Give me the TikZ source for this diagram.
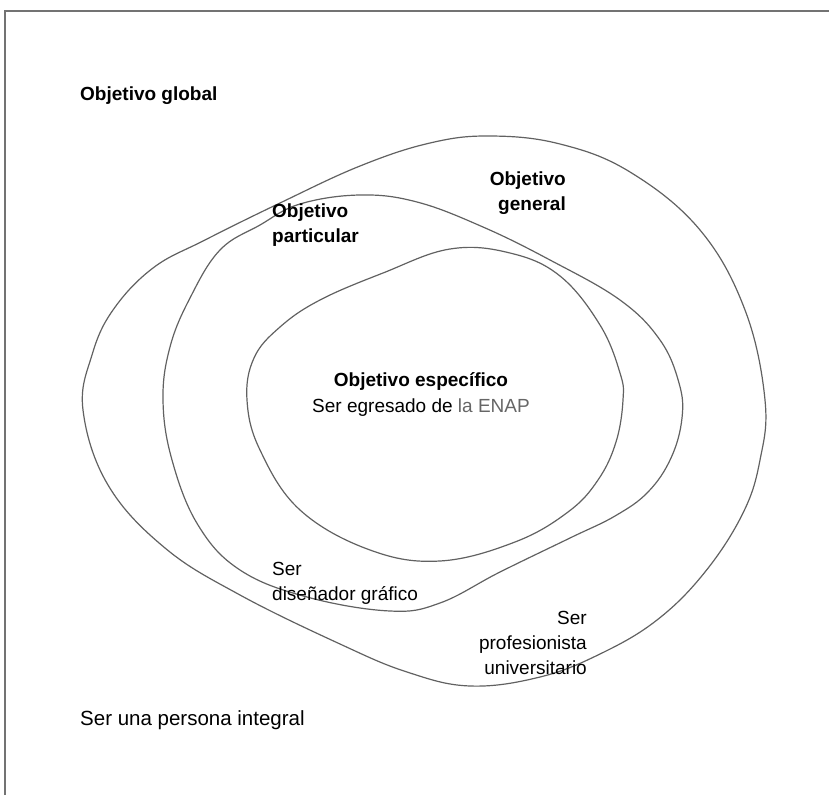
\documentclass[tikz,border=0pt]{standalone}
\usepackage{fontspec}
\setmainfont{Liberation Sans}
\begin{document}
\begin{tikzpicture}[x=1pt,y=-1pt,
  ring/.style={draw=black!62, line width=1.2pt, smooth cycle, tension=0.65},
  frameline/.style={draw=black!55, line width=1.4pt},
  lbl/.style={inner sep=0pt, font=\fontsize{19}{25}\selectfont},
  head/.style={lbl, font=\fontsize{19}{25}\selectfont\bfseries}]
\useasboundingbox (0,0) rectangle (829,795);

% open frame: left and top edges only
\draw[frameline] (5,795) -- (5,11) -- (829,11);

% outer ring: objetivo general
\draw[ring] plot coordinates {
  (83,410) (92,355) (113,310) (153,268) (205,240) (280,203) (360,166)
  (430,143) (490,136) (560,144) (630,172) (700,230) (745,310) (765,400)
  (760,460) (743,513) (705,572) (657,620) (600,654) (540,677) (470,686)
  (407,672) (340,644) (240,595) (165,548) (108,485)};

% middle ring: objetivo particular
\draw[ring] plot coordinates {
  (220,250) (260,225) (300,204) (360,195) (417,202) (483,227) (550,260)
  (620,300) (660,340) (679,383) (682,418) (671,458) (648,492) (615,516)
  (570,538) (500,572) (440,603) (390,611) (307,597) (240,570) (198,525)
  (172,460) (163,400) (170,347) (190,298)};

% inner ring: objetivo especifico
\draw[ring] plot coordinates {
  (280,327) (320,300) (383,273) (450,249) (510,253) (560,276) (600,325)
  (620,373) (623,400) (616,442) (598,480) (568,512) (515,542) (440,561)
  (370,550) (300,510) (260,450) (247,400) (254,358)};

% labels
\node[head, anchor=west] (global) at (80,96) {Objetivo global};
\node[head, anchor=east, align=right] (general) at (566,193) {Objetivo\\general};
\node[head, anchor=west, align=left] (particular) at (272,225) {Objetivo\\particular};
\node[head] (especifico) at (421,381) {Objetivo específico};
\node[lbl] (enap) at (421,408) {Ser egresado de {\color{black!60}la ENAP}};
\node[lbl, anchor=west, align=left] (disenador) at (272,583) {Ser\\diseñador gráfico};
\node[lbl, anchor=east, align=right] (profesionista) at (587,643) {Ser\\profesionista\\universitario};
\node[lbl, anchor=west, font=\fontsize{20.5}{25}\selectfont] (integral) at (80,720) {Ser una persona integral};
\end{tikzpicture}
\end{document}
